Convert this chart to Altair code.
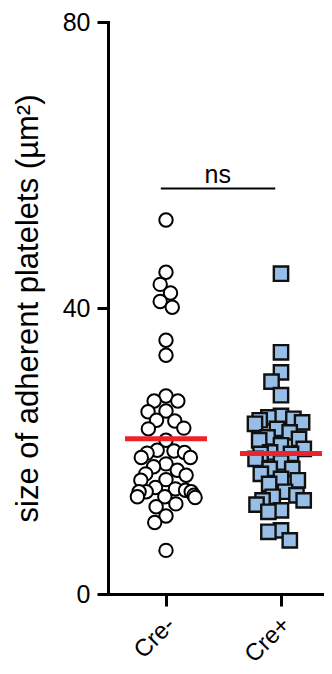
import math
import altair as alt
import pandas as pd

# ---------------- data ----------------
categories = ["Cre-", "Cre+"]
cre_neg = [52.3, 45.0, 43.3, 42.1, 40.9, 40.1, 35.5, 33.4,
           27.7, 27.0, 27.0, 25.6, 25.5, 24.3, 24.2, 23.2, 23.1, 21.5,
           20.1, 20.0, 19.8, 19.7, 19.1, 19.1, 18.2, 17.8, 17.3, 16.8, 16.6,
           16.0, 15.9, 14.9, 14.7, 14.5, 14.3, 14.3, 14.3, 13.8, 13.6, 13.6,
           13.5, 12.6, 12.2, 10.9, 10.0, 6.1]
cre_pos = [44.8, 33.8, 31.0, 29.7, 27.8, 24.9, 24.7, 24.5, 24.3, 24.0, 23.8,
           23.1, 22.6, 21.9, 21.7, 21.5, 20.8, 20.3, 19.8, 19.6, 19.6, 18.9,
           18.4, 17.5, 17.5, 16.8, 16.1, 15.9, 15.4, 14.3, 13.8, 13.6, 13.1,
           13.1, 12.5, 11.7, 11.5, 8.9, 8.7, 7.5]
group_means = [21.7, 19.65]
y_ticks = [0, 40, 80]
significance = "ns"
bracket_value = 56.7
y_title = "size of adherent platelets (µm²)"

# ---------------- layout ----------------
W, H = 216, 572
X_DOMAIN = [0.4957, 0.4957 + W / 115.0]
Y_DOMAIN = [0, 80]
PX_X = W / (X_DOMAIN[1] - X_DOMAIN[0])
PX_Y = H / (Y_DOMAIN[1] - Y_DOMAIN[0])
FONT = "Liberation Sans"
SWARM_GAP = 13.5      # px between point centres in the swarm
SWARM_HALF = 30.0     # soft limit on the half-width of a swarm, px


def swarm(values, d, half_width):
    """Beeswarm: x offsets (data units); wide rows are softly compressed."""
    order = sorted(range(len(values)), key=lambda i: -values[i])
    placed = []
    offs = [0.0] * len(values)
    for i in order:
        y = values[i] * PX_Y
        cands = [0.0]
        for (xj, yj) in placed:
            dy = y - yj
            if abs(dy) < d:
                dx = math.sqrt(d * d - dy * dy)
                cands += [xj + dx, xj - dx]
        cands.sort(key=lambda c: (abs(c), c))
        for c in cands:
            if all((c - xj) ** 2 + (y - yj) ** 2 >= d * d - 1e-6 for (xj, yj) in placed):
                placed.append((c, y))
                offs[i] = half_width * math.tanh(c / half_width) / PX_X
                break
    return offs


rows = []
for gi, (cat, vals) in enumerate(zip(categories, [cre_neg, cre_pos])):
    offs = swarm(vals, SWARM_GAP, SWARM_HALF)
    for v, o in zip(vals, offs):
        rows.append({"group": cat, "x": gi + 1 + o, "value": v})
pts = pd.DataFrame(rows)

half = 41 / PX_X
means_df = pd.DataFrame({
    "group": categories,
    "x": [i + 1 - half for i in range(len(categories))],
    "x2": [i + 1 + half for i in range(len(categories))],
    "value": group_means,
})
bracket_df = pd.DataFrame({"x": [0.955], "x2": [1.95], "value": [bracket_value],
                           "mid": [1.45], "label": [significance]})

label_expr = " : ".join(
    [f"datum.value == {i + 1} ? '{c}'" for i, c in enumerate(categories[:-1])]
    + [f"'{categories[-1]}'"]
)

x_scale = alt.Scale(domain=X_DOMAIN, nice=False, zero=False)
y_scale = alt.Scale(domain=Y_DOMAIN, nice=False, zero=True)

x_axis = alt.Axis(
    values=[1, 2], labelExpr=label_expr, title=None, grid=False,
    domainColor="black", domainWidth=3, domainCap="square",
    tickColor="black", tickWidth=3, tickSize=12,
    labelAngle=315, labelAlign="right", labelBaseline="middle",
    labelFont=FONT, labelFontSize=24, labelColor="black",
    labelPadding=15, labelOffset=5,
)
y_axis = alt.Axis(
    values=y_ticks, title=y_title, grid=False,
    domainColor="black", domainWidth=3, domainCap="square",
    tickColor="black", tickWidth=3, tickSize=11,
    labelFont=FONT, labelFontSize=25, labelColor="black", labelPadding=7,
    titleFont=FONT, titleFontSize=31, titleFontWeight="normal", titleColor="black",
    titleX=-71, titleY=H / 2, titleBaseline="alphabetic", titleAngle=270,
)

X = lambda f: alt.X(f, scale=x_scale, axis=x_axis)
Y = lambda f: alt.Y(f, scale=y_scale, axis=y_axis)

circles = alt.Chart(pts[pts.group == categories[0]]).mark_circle(
    fill="white", stroke="black", strokeWidth=2, size=180, opacity=1, fillOpacity=1
).encode(x=X("x:Q"), y=Y("value:Q"))

squares = alt.Chart(pts[pts.group == categories[1]]).mark_square(
    fill="#97BEE6", stroke="#111111", strokeWidth=2.4, size=205, opacity=1, fillOpacity=1
).encode(x=X("x:Q"), y=Y("value:Q"))

mean_lines = alt.Chart(means_df).mark_rule(color="#EC2329", strokeWidth=5).encode(
    x=X("x:Q"), x2="x2:Q", y=Y("value:Q"),
)

bracket = alt.Chart(bracket_df).mark_rule(color="black", strokeWidth=2).encode(
    x=X("x:Q"), x2="x2:Q", y=Y("value:Q"),
)

ns_text = alt.Chart(bracket_df).mark_text(
    font=FONT, fontSize=25, color="black", baseline="alphabetic", dy=-6
).encode(x=X("mid:Q"), y=Y("value:Q"), text="label:N")

chart = alt.layer(circles, squares, mean_lines, bracket, ns_text).properties(
    width=W, height=H,
    autosize=alt.AutoSizeParams(type="none"),
    padding={"left": 100, "top": 14, "right": 0, "bottom": 72},
).configure_view(stroke=None)

chart.save("out.html", embed_options={"renderer": "svg", "actions": False})
